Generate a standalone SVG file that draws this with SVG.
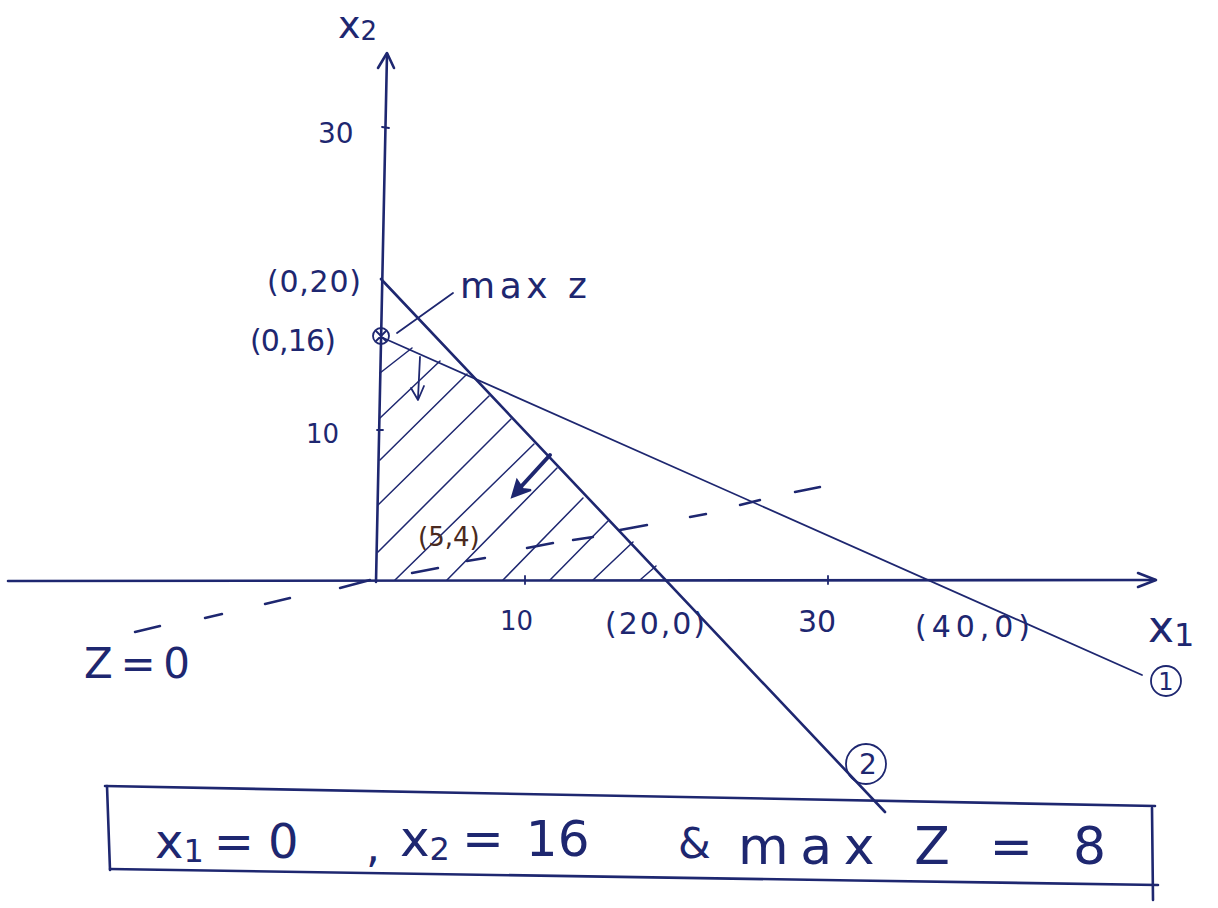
<svg xmlns="http://www.w3.org/2000/svg" width="1218" height="908" viewBox="0 0 1218 908">
<defs>
<style>
.ink{stroke:#1e2770;fill:none;stroke-linecap:round;stroke-linejoin:round}
.ax{stroke-width:2.6}
.ln{stroke-width:1.8}
.ht{stroke-width:1.5}
.ds{stroke-width:2.4}
.t{font-family:"DejaVu Sans","Liberation Sans",sans-serif;fill:#1e2770}
</style>
</defs>
<rect width="1218" height="908" fill="#ffffff"/>
<g id="axes">
<path class="ink ax" d="M8,581 L1155,580"/>
<path class="ink ax" d="M1138,573 L1156,580 L1138,587"/>
<path class="ink ax" d="M376,582 L387,54"/>
<path class="ink ax" d="M378,68 L387,53 L394,68"/>
<path class="ink ln" d="M382,127 L389,128 M377,430 L383,430 M525,576 L525,584 M828,576 L828,584"/>
</g>
<g id="constraint-lines">
<path class="ink ln" d="M381,337 L1142,675"/>
<path class="ink ax" d="M381,279 L885,812"/>
</g>
<g id="hatching">
<path class="ink ht" d="M380,373 L412,348 M380,418 L440,361 M380,460 L467,374 M378,505 L489,396 M378,552 L511,419 M395,580 L534,444 M447,580 L557,468 M503,580 L583,498 M550,580 L608,521 M593,580 L633,542 M640,580 L656,566"/>
</g>
<g id="objective-line">
<path class="ink ds" d="M135,632 L160,626 M205,618 L222,614 M265,604 L290,598 M340,588 L370,580 M412,573 L438,568 M467,561 L485,558 M527,548 L553,543 M573,540 L593,537 M620,530 L647,525 M690,517 L706,514 M740,505 L760,500 M795,492 L820,487"/>
</g>
<g id="direction-arrows">
<path class="ink ln" d="M420,357 L418,398 M411,388 L418,400 L424,386"/>
<path class="ink" stroke-width="4" d="M550,455 L518,490"/>
<path fill="#1e2770" stroke="#1e2770" stroke-width="2" d="M512,497 L517,480 L523,489 L531,490 Z"/>
</g>
<g id="optimum">
<circle class="ink ln" cx="381" cy="336" r="8"/>
<path class="ink ln" d="M376,331 L386,341 M386,331 L376,341 M381,329 L381,343"/>
<path class="ink ln" d="M397,333 L453,293"/>
</g>
<g id="labels">
<text class="t" x="338" y="38" font-size="38">x<tspan font-size="26" dy="2">2</tspan></text>
<text class="t" x="318" y="143" font-size="28">30</text>
<text class="t" x="306" y="443" font-size="26">10</text>
<text class="t" x="267" y="292" font-size="30" textLength="94" lengthAdjust="spacing">(0,20)</text>
<text class="t" x="460" y="298" font-size="36" textLength="127" lengthAdjust="spacing">max z</text>
<text class="t" x="250" y="351" font-size="30" textLength="86" lengthAdjust="spacing">(0,16)</text>
<text class="t" x="418" y="546" font-size="26" style="fill:#4a2a20">(5,4)</text>
<text class="t" x="500" y="630" font-size="26">10</text>
<text class="t" x="605" y="634" font-size="30" textLength="100" lengthAdjust="spacing">(20,0)</text>
<text class="t" x="798" y="632" font-size="30">30</text>
<text class="t" x="915" y="637" font-size="30" textLength="115" lengthAdjust="spacing">(40,0)</text>
<text class="t" x="1148" y="642" font-size="44">x<tspan font-size="32" dy="4">1</tspan></text>
<circle class="ink ln" cx="1166" cy="681" r="15"/>
<text class="t" x="1166" y="690" font-size="24" text-anchor="middle">1</text>
<circle class="ink ln" cx="866" cy="764" r="20"/>
<text class="t" x="868" y="774" font-size="28" text-anchor="middle">2</text>
<text class="t" x="84" y="678" font-size="42" textLength="106" lengthAdjust="spacing">Z=0</text>
</g>
<g id="result-box">
<path class="ink ax" d="M105,786 C400,790 700,800 1155,806"/>
<path class="ink ax" d="M110,869 C400,873 800,880 1158,885"/>
<path class="ink ax" d="M107,786 L110,870"/>
<path class="ink ax" d="M1152,808 L1153,900"/>
<text class="t" x="155" y="858" font-size="48">x<tspan font-size="32" dy="4">1</tspan><tspan dy="-4" dx="10">=</tspan><tspan dx="14">0</tspan></text>
<text class="t" x="366" y="862" font-size="44">,</text>
<text class="t" x="400" y="856" font-size="50">x<tspan font-size="32" dy="4">2</tspan><tspan dy="-4" dx="12">=</tspan><tspan dx="22">16</tspan></text>
<text class="t" x="678" y="858" font-size="42">&amp;</text>
<text class="t" x="738" y="864" font-size="52" textLength="368" lengthAdjust="spacing">max Z = 8</text>
</g>
</svg>
